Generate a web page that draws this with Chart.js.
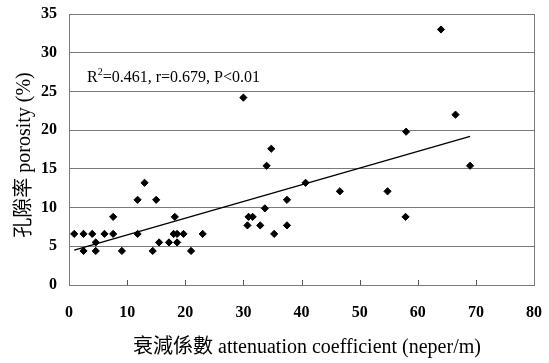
<!DOCTYPE html>
<html>
<head>
<meta charset="utf-8">
<script src="https://cdn.jsdelivr.net/npm/chart.js@4.4.1/dist/chart.umd.min.js"></script>
<style>
  html, body { margin: 0; padding: 0; background: #fff; }
  #c { display: block; }
</style>
</head>
<body>
<canvas id="c" width="549" height="363"></canvas>
<script>
// Measured samples: attenuation coefficient (neper/m) vs porosity (%)
const attenuation = [0.9, 2.5, 2.5, 4.0, 4.6, 4.6, 6.1, 7.6, 7.6, 9.1, 11.8, 11.8, 13.0, 14.4, 15.0, 15.5, 17.2, 18.2, 18.0, 18.6, 18.6, 19.7, 21.0, 23.0, 30.0, 30.7, 30.9, 31.6, 32.9, 33.7, 34.0, 34.8, 35.3, 37.5, 37.5, 40.7, 46.6, 54.8, 58.0, 57.9, 64.0, 66.5, 69.0];
const porosity    = [6.6, 6.6, 4.4, 6.6, 5.5, 4.4, 6.6, 8.8, 6.6, 4.4, 11.0, 6.6, 13.2, 4.4, 11.0, 5.5, 5.5, 8.8, 6.6, 6.6, 5.5, 6.6, 4.4, 6.6, 24.2, 7.7, 8.8, 8.8, 7.7, 9.9, 15.4, 17.6, 6.6, 11.0, 7.7, 13.2, 12.1, 12.1, 19.8, 8.8, 33.0, 22.0, 15.4];

// Linear regression line end points
const fitX = [0.9, 69.0];
const fitY = [4.5, 19.2];

// Axis ranges and tick steps
const xRange = [0, 80];
const xStep = 10;
const yRange = [0, 35];
const yStep = 5;

// Text
const statsParts = ['R', '2', '=0.461, r=0.679, P<0.01'];
const xTitle = '衰減係數 attenuation coefficient (neper/m)';
const yTitle = '孔隙率 porosity (%)';

const SERIF = '"Liberation Serif", "Times New Roman", "Noto Sans CJK TC", serif';
const GRID = '#7a7a7a';

const points = attenuation.map((x, i) => ({ x: x, y: porosity[i] }));
const fitLine = fitX.map((x, i) => ({ x: x, y: fitY[i] }));

// Frame, inner x ticks, statistics label and axis titles
const decorations = {
  id: 'decorations',
  afterDraw(chart) {
    const ctx = chart.ctx;
    const area = chart.chartArea;
    const xs = chart.scales.x;
    ctx.save();

    // right edge of the frame
    ctx.strokeStyle = GRID;
    ctx.lineWidth = 1;
    ctx.beginPath();
    ctx.moveTo(Math.round(area.right) + 0.5, area.top);
    ctx.lineTo(Math.round(area.right) + 0.5, area.bottom);
    ctx.stroke();

    // tick marks pointing into the plot
    ctx.strokeStyle = '#555';
    xs.ticks.forEach(t => {
      if (t.value <= xRange[0] || t.value >= xRange[1]) return;
      const px = Math.round(xs.getPixelForValue(t.value)) + 0.5;
      ctx.beginPath();
      ctx.moveTo(px, area.bottom - 5);
      ctx.lineTo(px, area.bottom);
      ctx.stroke();
    });

    // statistics label
    ctx.fillStyle = '#000';
    ctx.textBaseline = 'alphabetic';
    ctx.textAlign = 'left';
    let tx = 87;
    const ty = 82;
    ctx.font = '16px ' + SERIF;
    ctx.fillText(statsParts[0], tx, ty);
    tx += ctx.measureText(statsParts[0]).width;
    ctx.font = '10px ' + SERIF;
    ctx.fillText(statsParts[1], tx, ty - 7);
    tx += ctx.measureText(statsParts[1]).width;
    ctx.font = '16px ' + SERIF;
    ctx.fillText(statsParts[2], tx, ty);

    // axis titles
    ctx.textAlign = 'center';
    ctx.textBaseline = 'middle';
    ctx.font = '20px ' + SERIF;
    ctx.fillText(xTitle, 307, 348);

    ctx.translate(25, 155);
    ctx.rotate(-Math.PI / 2);
    ctx.fillText(yTitle, 0, 0);
    ctx.restore();
  }
};

new Chart(document.getElementById('c'), {
  type: 'scatter',
  data: {
    datasets: [
      {
        label: 'porosity',
        data: points,
        pointStyle: 'rectRot',
        pointRadius: 3.6,
        pointBackgroundColor: '#000',
        pointBorderColor: '#000',
        pointBorderWidth: 1,
        order: 1
      },
      {
        label: 'fit',
        data: fitLine,
        showLine: true,
        borderColor: '#000',
        borderWidth: 1.4,
        pointRadius: 0,
        fill: false,
        order: 2
      }
    ]
  },
  options: {
    responsive: false,
    animation: false,
    devicePixelRatio: 1,
    layout: { padding: { top: 14, right: 15, left: 0, bottom: 0 } },
    plugins: {
      legend: { display: false },
      tooltip: { enabled: false }
    },
    scales: {
      x: {
        type: 'linear',
        min: xRange[0],
        max: xRange[1],
        afterFit(scale) {
          scale.height = 78;
          scale.paddingLeft = 0;
          scale.paddingRight = 0;
        },
        ticks: {
          stepSize: xStep,
          color: '#000',
          padding: 18,
          font: { family: SERIF, size: 16, weight: 'bold' }
        },
        grid: { display: false, drawTicks: false },
        border: { display: true, color: GRID, width: 1 }
      },
      y: {
        type: 'linear',
        min: yRange[0],
        max: yRange[1],
        afterFit(scale) {
          scale.width = 69;
          scale.paddingTop = 0;
          scale.paddingBottom = 0;
        },
        ticks: {
          stepSize: yStep,
          color: '#000',
          padding: 12,
          font: { family: SERIF, size: 16, weight: 'bold' }
        },
        grid: { color: GRID, lineWidth: 1, drawTicks: false },
        border: { display: true, color: GRID, width: 1 }
      }
    }
  },
  plugins: [decorations]
});
</script>
</body>
</html>
